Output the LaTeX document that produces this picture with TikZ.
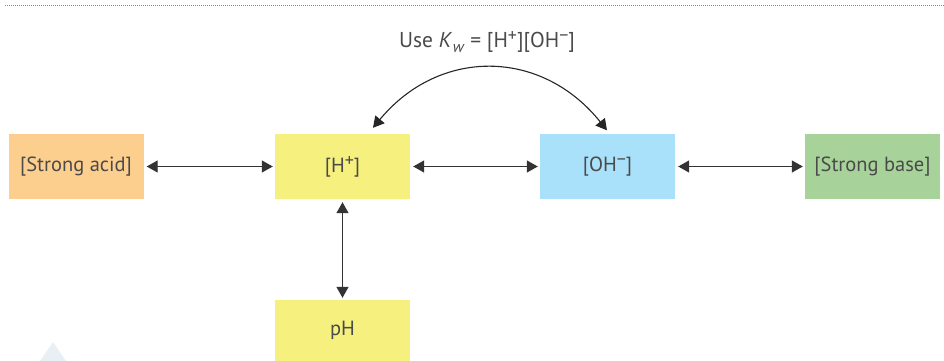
\documentclass[tikz,border=0pt]{standalone}
\usepackage{fontspec}
\setmainfont{PT Sans}
\usetikzlibrary{arrows.meta}
\definecolor{txt}{HTML}{4A4A4A}
\definecolor{acid}{HTML}{FCCF8E}
\definecolor{hyd}{HTML}{F6F07E}
\definecolor{oh}{HTML}{A9E0FA}
\definecolor{base}{HTML}{A7D39A}
\definecolor{dotc}{HTML}{8A8A8A}
\definecolor{tri}{HTML}{E8F0F5}
\newcommand{\mysup}[1]{\raisebox{0.6ex}{\fontsize{18}{18}\selectfont #1}}
\tikzset{
  lbl/.style={text=txt, font=\fontsize{20.5}{22}\selectfont},
  box/.style={lbl, minimum width=135pt, minimum height=65pt, inner sep=0pt},
  tip/.tip={Triangle[length=11pt,width=12pt]},
  dbl/.style={draw=black!80, line width=1.3pt, tip-tip, shorten <=3pt, shorten >=2pt},
  one/.style={draw=black!85, line width=1.1pt, tip-tip},
}
\begin{document}
\begin{tikzpicture}[x=1pt,y=-1pt]
\useasboundingbox (0,0) rectangle (944,361);
\draw[dotc, line width=0.8pt, dash pattern=on 1pt off 1pt] (5,5) -- (944,5);
\fill[tri] (40,361) -- (53,342) -- (66,361) -- cycle;
\node[box, fill=acid] (acid) at (76,166.5) {[Strong acid]};
\node[box, fill=hyd] (h) at (342.5,166.5) {[H\mysup{+}]};
\node[box, fill=oh] (oh) at (607.5,166.5) {[OH\mysup{−}]};
\node[box, fill=base] (base) at (872.5,166.5) {[Strong base]};
\node[box, fill=hyd, minimum height=61pt] (ph) at (342.5,330.5) {pH};
\node[lbl, inner sep=0pt, font=\fontsize{21.5}{23}\selectfont] (kw) at (487,42) {Use \textit{K}\kern0.5pt\raisebox{-0.45ex}{\fontsize{16}{16}\selectfont\textit{w}} = [H\mysup{+}][OH\mysup{−}]};
\draw[dbl] (acid.east) -- (h.west);
\draw[dbl] (h.east) -- (oh.west);
\draw[dbl] (oh.east) -- (base.west);
\draw[dbl] (h.south) -- (ph.north);
\coordinate (hs) at ([xshift=30.5pt,yshift=6pt]h.north);
\coordinate (os) at ([xshift=-0.5pt,yshift=3.5pt]oh.north);
\draw[one] (hs) .. controls (439,48) and (541,48) .. (os);
\end{tikzpicture}
\end{document}
